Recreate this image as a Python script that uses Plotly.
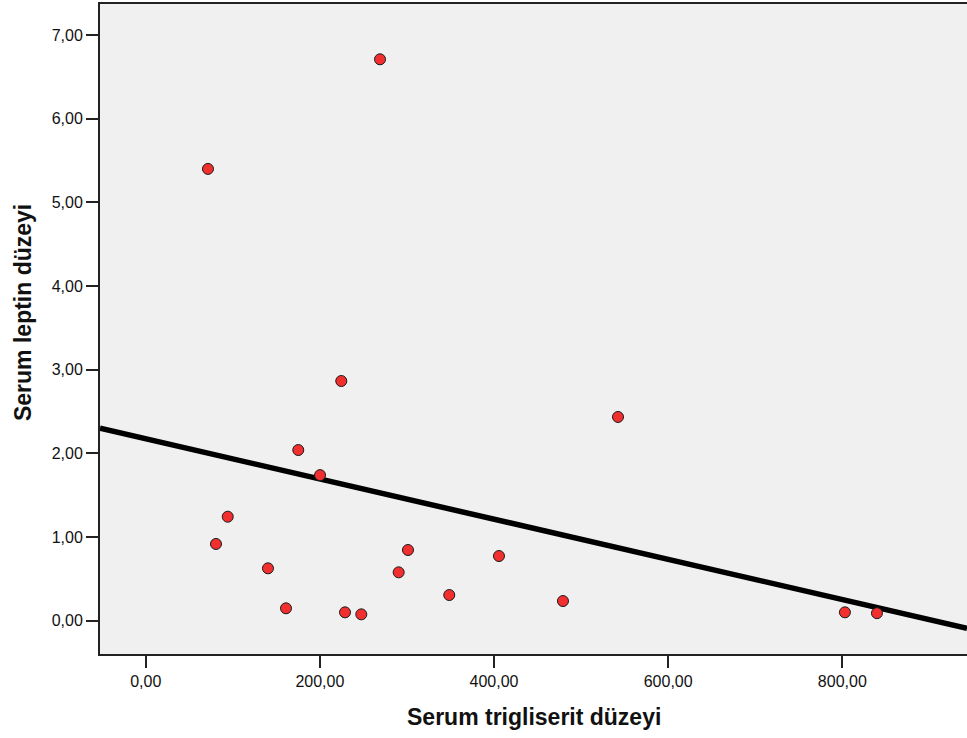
import plotly.graph_objects as go

# Data
trigliserit = [71.5, 269.1, 224.6, 175.2, 200.2, 94.2, 80.7, 140.4, 161.1, 228.9,
               247.6, 301.2, 290.5, 348.6, 405.7, 479.2, 542.4, 803.0, 839.8]
leptin = [5.40, 6.71, 2.865, 2.04, 1.74, 1.243, 0.917, 0.626, 0.148, 0.10,
          0.076, 0.845, 0.578, 0.307, 0.773, 0.235, 2.435, 0.10, 0.09]

# Fit line
fit_intercept = 2.174
fit_slope = -0.002402

x_tickvals = [0, 200, 400, 600, 800]
x_ticktext = ["0,00", "200,00", "400,00", "600,00", "800,00"]
y_tickvals = [0, 1, 2, 3, 4, 5, 6, 7]
y_ticktext = ["0,00", "1,00", "2,00", "3,00", "4,00", "5,00", "6,00", "7,00"]

x_range = [-52.5, 943.2]
y_range = [-0.398, 7.371]

fig = go.Figure()

line_x = [x_range[0], x_range[1]]
line_y = [fit_intercept + fit_slope * v for v in line_x]
fig.add_trace(go.Scatter(x=line_x, y=line_y, mode="lines",
                         line=dict(color="black", width=5.5),
                         hoverinfo="skip", showlegend=False))

fig.add_trace(go.Scatter(x=trigliserit, y=leptin, mode="markers",
                         marker=dict(size=11, color="#f22f2f",
                                     line=dict(color="#1a1a1a", width=1)),
                         showlegend=False))

axis_font = dict(family="Liberation Sans, Arial, sans-serif", size=16, color="#111")
title_font = dict(family="Liberation Sans, Arial, sans-serif", size=23, color="#111")

fig.update_layout(
    width=967, height=738,
    margin=dict(l=100, r=0, t=4, b=84),
    paper_bgcolor="white",
    plot_bgcolor="#f0f0f0",
    xaxis=dict(range=x_range, tickvals=x_tickvals, ticktext=x_ticktext,
               showgrid=False, zeroline=False, showline=True, linecolor="#222",
               linewidth=2, mirror=True, ticks="outside", ticklen=12,
               tickwidth=2, tickcolor="#222", tickfont=axis_font),
    yaxis=dict(range=y_range, tickvals=y_tickvals, ticktext=y_ticktext,
               showgrid=False, zeroline=False, showline=True, linecolor="#222",
               linewidth=2, mirror=False, ticks="outside", ticklen=12,
               tickwidth=2, tickcolor="#222", tickfont=axis_font),
    annotations=[
        dict(text="<b>Serum trigliserit düzeyi</b>", xref="paper", yref="paper",
             x=0.5, y=-0.0969, xanchor="center", yanchor="middle", showarrow=False,
             font=title_font),
        dict(text="<b>Serum leptin düzeyi</b>", xref="paper", yref="paper",
             x=-0.0888, y=0.5246, xanchor="center", yanchor="middle", showarrow=False,
             textangle=-90, font=title_font),
    ],
)

fig.write_html("out.html")
